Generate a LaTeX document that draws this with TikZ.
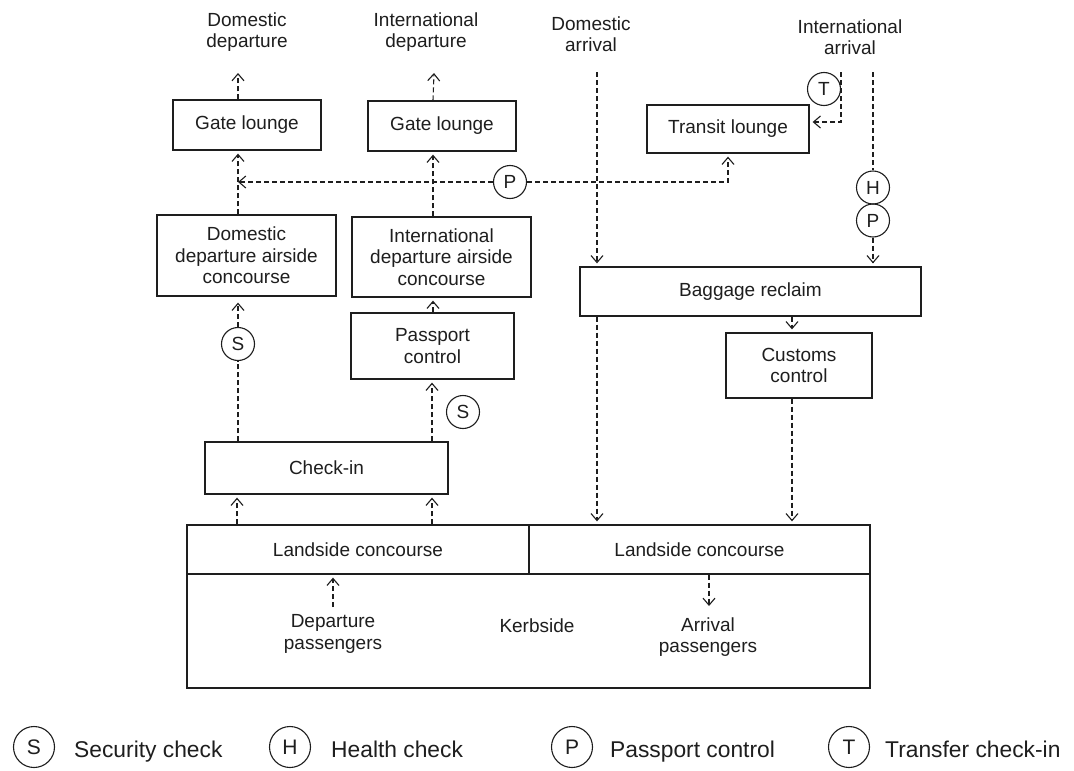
\documentclass[tikz,border=0pt]{standalone}
\usepackage{fontspec}
\setmainfont{Liberation Sans}
\usetikzlibrary{arrows.meta,shapes.geometric}
\definecolor{ink}{HTML}{1E1E1E}
\begin{document}
\begin{tikzpicture}[x=1pt,y=-1pt,
  box/.style={draw=ink, line width=1.3pt, rectangle, inner sep=0pt, align=center, text=ink, font=\fontsize{19}{21.5}\selectfont},
  lab/.style={align=center, inner sep=0pt, text=ink, font=\fontsize{19}{21.5}\selectfont},
  chk/.style={draw=ink, circle, line width=1.1pt, minimum size=33pt, inner sep=0pt, text=ink, font=\fontsize{19}{21}\selectfont},
  leg/.style={draw=ink, circle, line width=1.1pt, minimum size=41pt, inner sep=0pt, text=ink, font=\fontsize{21}{24}\selectfont},
  legtxt/.style={anchor=base west, inner sep=0pt, text=ink, font=\fontsize{22.8}{25}\selectfont},
  plain/.style={draw=ink, line width=1.1pt, dash pattern=on 5pt off 3pt},
  flow/.style={plain, shorten >=3pt, -{Straight Barb[length=7pt,width=12pt]}},
]
\useasboundingbox[fill=white] (0,0) rectangle (1074,771);

% ---- top labels
\node[lab] (tDD) at (247,32) {Domestic\\departure};
\node[lab] (tID) at (426,32) {International\\departure};
\node[lab] (tDA) at (591,34) {Domestic\\arrival};
\node[lab] (tIA) at (850,37) {International\\arrival};

% ---- boxes
\node[box, minimum width=148pt, minimum height=50pt] (gl1) at (247,125) {Gate lounge};
\node[box, minimum width=148pt, minimum height=50pt] (gl2) at (442,126) {Gate lounge};
\node[box, minimum width=162pt, minimum height=48pt] (tl) at (728,129) {Transit lounge};
\node[box, minimum width=179pt, minimum height=81pt] (dc) at (246.5,255.5) {Domestic\\departure airside\\concourse};
\node[box, minimum width=179pt, minimum height=80pt] (ic) at (441.5,257) {International\\departure airside\\concourse};
\node[box, minimum width=163pt, minimum height=66pt] (pc) at (432.5,346) {Passport\\control};
\node[box, minimum width=243pt, minimum height=52pt] (ci) at (326.5,468) {Check-in};
\node[box, minimum width=341pt, minimum height=49pt] (br) at (750.5,291.5) {Baggage reclaim};
\node[box, minimum width=146pt, minimum height=65pt] (cc) at (799,365.5) {Customs\\control};
\node[box, minimum width=683pt, minimum height=114pt] (kb) at (528.5,631) {};
\node[box, minimum width=342pt, minimum height=49pt] (lsL) at (358,549.5) {Landside concourse};
\node[box, minimum width=341pt, minimum height=49pt] (lsR) at (699.5,549.5) {Landside concourse};
\node[lab] (dp) at (333,634) {Departure\\passengers};
\node[lab] (kbt) at (537,626) {Kerbside};
\node[lab] (ap) at (708,637) {Arrival\\passengers};

% ---- check circles
\node[chk] (Pm) at (510,182) {P};
\node[chk] (T) at (824,89) {T};
\node[chk] (H) at (873,187.5) {H};
\node[chk] (P2) at (873,220.5) {P};
\node[chk] (S1) at (238,344) {S};
\node[chk] (S2) at (463,412) {S};

% ---- column coordinates and free ends
\coordinate (xD) at (238,0);
\coordinate (xI) at (433,0);
\coordinate (xDA) at (597,0);
\coordinate (xCu) at (792,0);
\coordinate (xIA) at (873,0);
\coordinate (xTL) at (728,0);
\coordinate (xCk1) at (237,0);
\coordinate (xCk2) at (432,0);
\coordinate (xDP) at (333,0);
\coordinate (xAP) at (709,0);
\coordinate (eDD) at (238,73);
\coordinate (eID) at (434,73);
\coordinate (sDA) at (597,72);
\coordinate (sT) at (841,72);
\coordinate (kT) at (841,122);
\coordinate (sIA) at (873,72);
\coordinate (sDP) at (333,607);
\coordinate (eAP) at (709,606);

% ---- connectors
\draw[flow, shorten >=0pt] (gl1.north -| xD) -- (eDD);
\draw[flow, shorten >=0pt] (gl2.north -| xI) -- (eID);
\draw[flow] (dc.north -| xD) -- (gl1.south -| xD);
\draw[flow] (ic.north -| xI) -- (gl2.south -| xI);
\draw[flow, shorten >=0pt] (Pm.west) -- (Pm -| xD);
\draw[flow] (Pm.east) -- (Pm -| xTL) -- (tl.south -| xTL);
\draw[flow] (sDA) -- (br.north -| xDA);
\draw[flow] (br.south -| xDA) -- (lsR.north -| xDA);
\draw[flow] (sT) -- (kT) -- (tl.east |- kT);
\draw[plain] (sIA) -- (H.north);
\draw[flow] (P2.south) -- (br.north -| xIA);
\draw[flow] (br.south -| xCu) -- (cc.north -| xCu);
\draw[flow] (cc.south -| xCu) -- (lsR.north -| xCu);
\draw[plain] (ci.north -| xD) -- (S1.south);
\draw[flow, shorten >=6pt] (S1.north) -- (dc.south -| xD);
\draw[flow] (ci.north -| xCk2) -- (pc.south -| xCk2);
\draw[flow] (pc.north -| xI) -- (ic.south -| xI);
\draw[flow] (lsL.north -| xCk1) -- (ci.south -| xCk1);
\draw[flow] (lsL.north -| xCk2) -- (ci.south -| xCk2);
\draw[flow] (sDP) -- (lsL.south -| xDP);
\draw[flow, shorten >=0pt] (lsR.south -| xAP) -- (eAP);

% ---- legend
\node[leg] (lS) at (34,747) {S};
\node[legtxt] (lSt) at (74,757) {Security check};
\node[leg] (lH) at (290,747) {H};
\node[legtxt] (lHt) at (331,757) {Health check};
\node[leg] (lP) at (572,747) {P};
\node[legtxt] (lPt) at (610,757) {Passport control};
\node[leg] (lT) at (849,747) {T};
\node[legtxt] (lTt) at (885,757) {Transfer check-in};
\end{tikzpicture}
\end{document}
